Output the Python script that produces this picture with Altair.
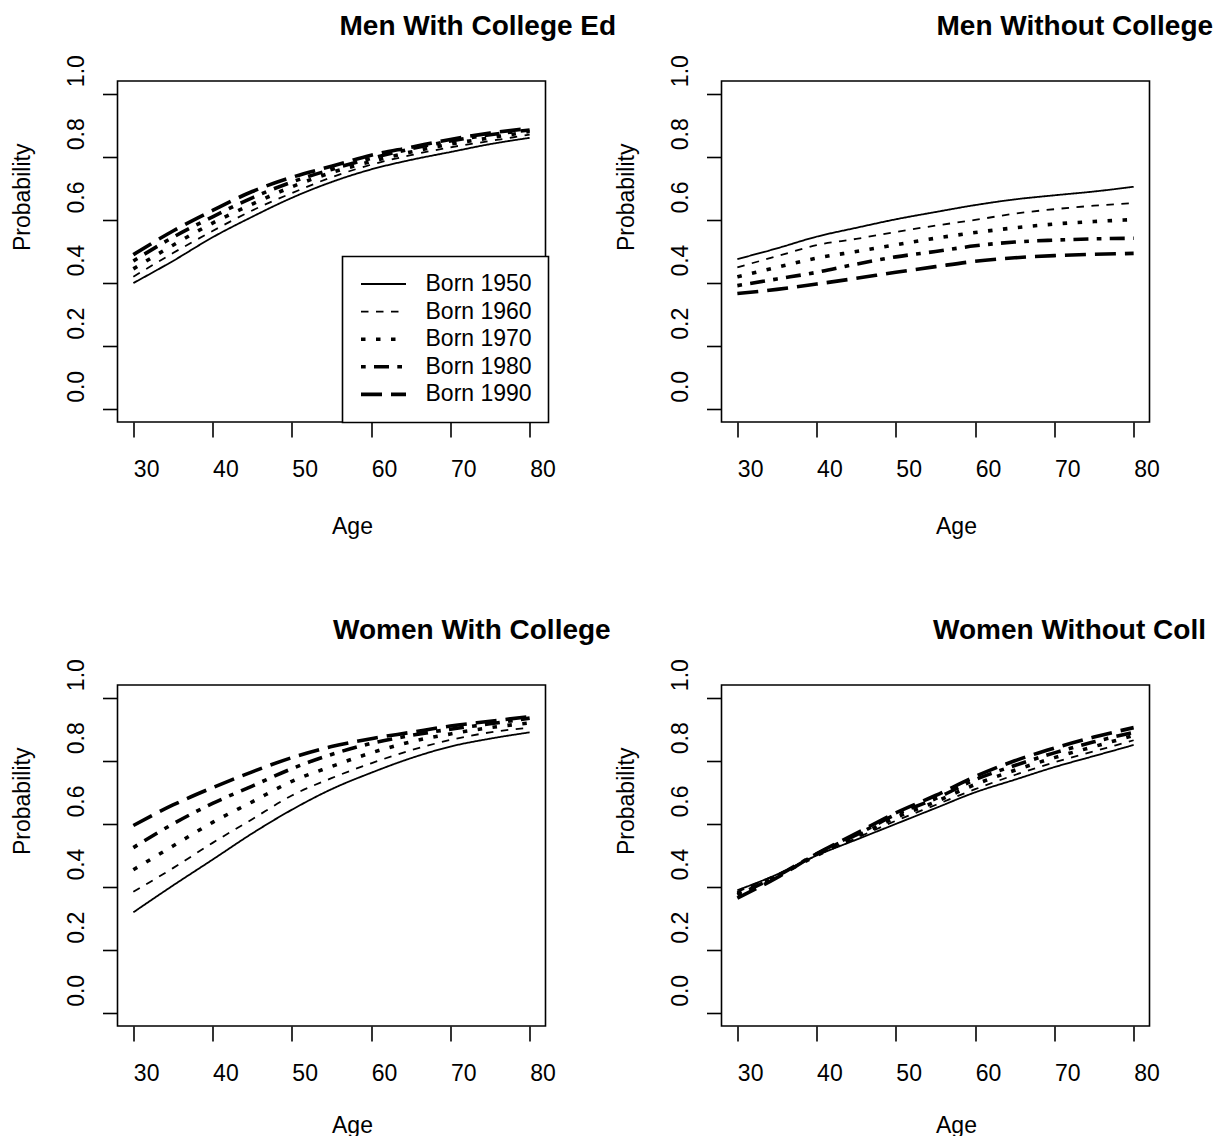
import altair as alt
import pandas as pd

# ---------------- data ----------------
ages = [30, 35, 40, 45, 50, 55, 60, 65, 70, 75, 80]
cohorts = ["Born 1950", "Born 1960", "Born 1970", "Born 1980", "Born 1990"]

men_college = [
    [0.400, 0.470, 0.545, 0.610, 0.670, 0.720, 0.760, 0.790, 0.815, 0.840, 0.860],
    [0.420, 0.495, 0.565, 0.630, 0.685, 0.735, 0.775, 0.805, 0.830, 0.850, 0.870],
    [0.445, 0.520, 0.590, 0.650, 0.705, 0.750, 0.785, 0.815, 0.840, 0.860, 0.880],
    [0.470, 0.545, 0.610, 0.670, 0.720, 0.760, 0.795, 0.825, 0.850, 0.870, 0.885],
    [0.490, 0.565, 0.630, 0.690, 0.735, 0.770, 0.805, 0.830, 0.855, 0.875, 0.890],
]
men_no_college = [
    [0.476, 0.510, 0.547, 0.575, 0.602, 0.625, 0.647, 0.665, 0.678, 0.690, 0.705],
    [0.450, 0.485, 0.520, 0.540, 0.562, 0.582, 0.600, 0.620, 0.634, 0.645, 0.653],
    [0.420, 0.450, 0.479, 0.500, 0.521, 0.542, 0.560, 0.575, 0.587, 0.595, 0.601],
    [0.392, 0.413, 0.434, 0.460, 0.483, 0.500, 0.518, 0.530, 0.536, 0.540, 0.542],
    [0.367, 0.380, 0.397, 0.415, 0.434, 0.452, 0.469, 0.480, 0.487, 0.491, 0.494],
]
women_college = [
    [0.320, 0.405, 0.487, 0.570, 0.645, 0.710, 0.762, 0.808, 0.845, 0.870, 0.890],
    [0.385, 0.460, 0.540, 0.615, 0.690, 0.745, 0.792, 0.833, 0.866, 0.890, 0.905],
    [0.455, 0.530, 0.605, 0.670, 0.735, 0.782, 0.825, 0.860, 0.885, 0.905, 0.920],
    [0.525, 0.600, 0.665, 0.720, 0.775, 0.820, 0.855, 0.880, 0.900, 0.917, 0.935],
    [0.595, 0.660, 0.715, 0.765, 0.810, 0.845, 0.870, 0.890, 0.910, 0.925, 0.940],
]
women_no_college = [
    [0.390, 0.440, 0.500, 0.550, 0.600, 0.650, 0.700, 0.740, 0.780, 0.815, 0.850],
    [0.385, 0.440, 0.500, 0.555, 0.610, 0.660, 0.710, 0.755, 0.795, 0.830, 0.865],
    [0.380, 0.435, 0.500, 0.560, 0.620, 0.670, 0.725, 0.770, 0.810, 0.845, 0.880],
    [0.375, 0.435, 0.505, 0.565, 0.630, 0.680, 0.740, 0.785, 0.825, 0.860, 0.890],
    [0.365, 0.430, 0.505, 0.570, 0.635, 0.690, 0.750, 0.800, 0.840, 0.875, 0.905],
]

panel_titles = ["Men With College Ed", "Men Without College",
                "Women With College", "Women Without Coll"]
x_ticks = [30, 40, 50, 60, 70, 80]
y_ticks = [0.0, 0.2, 0.4, 0.6, 0.8, 1.0]

# ---------------- styles / layout ----------------
FONT = "Liberation Sans"
dash_styles = [[1, 0], [7.5, 7.5], [4.5, 10.5], [4.7, 8.3, 15, 8.3], [21, 9]]
THIN, THICK = 1.8, 3.6
W, H = 428, 341
title_dx = [8, 1, 1.5, -2.5]
age_title_y = [111.5, 111.5, 106, 106]

panel_series = [men_college, men_no_college, women_college, women_no_college]
rows = []
for title, series in zip(panel_titles, panel_series):
    for cohort, vals in zip(cohorts, series):
        for a, v in zip(ages, vals):
            rows.append({"panel": title, "cohort": cohort, "age": a, "prob": v})
df = pd.DataFrame(rows)


def make_panel(idx, with_legend):
    if with_legend:
        legend = alt.Legend(
            title=None, orient="none", legendX=225, legendY=175.5, direction="vertical",
            symbolType="stroke", symbolSize=2025, symbolStrokeColor="black",
            symbolStrokeWidth=alt.ExprRef("datum.index < 2 ? %s : %s" % (THIN, THICK)),
            symbolOffset=13.5,
            labelFont=FONT, labelFontSize=23, labelColor="black", labelOffset=30.5,
            labelLimit=300, rowPadding=3.6, padding=16, strokeColor="black",
            fillColor="white", cornerRadius=0,
        )
    else:
        legend = None
    return (
        alt.Chart(df)
        .transform_filter(alt.datum.panel == panel_titles[idx])
        .mark_line(color="black", strokeCap="butt", strokeJoin="round",
                   interpolate="monotone")
        .encode(
            x=alt.X("age:Q",
                    scale=alt.Scale(domain=[28, 82], nice=False, zero=False),
                    axis=alt.Axis(values=x_ticks, title="Age", format="d",
                                  labelAlign="left", labelBaseline="alphabetic",
                                  labelPadding=39.5, labelAngle=0,
                                  titleAlign="left", titleBaseline="alphabetic",
                                  titleX=W / 2, titleY=age_title_y[idx], titleAngle=0)),
            y=alt.Y("prob:Q",
                    scale=alt.Scale(domain=[-0.04, 1.04], nice=False, zero=False),
                    axis=alt.Axis(values=y_ticks, title="Probability", format=".1f",
                                  labelAngle=-90, labelAlign="left",
                                  labelBaseline="alphabetic", labelPadding=19,
                                  labelOffset=-7,
                                  titleAngle=-90, titleAlign="left",
                                  titleBaseline="alphabetic",
                                  titleX=-88, titleY=H / 2 - 1)),
            strokeDash=alt.StrokeDash("cohort:N",
                                      scale=alt.Scale(domain=cohorts, range=dash_styles),
                                      legend=legend),
            strokeWidth=alt.condition(
                alt.FieldOneOfPredicate(field="cohort", oneOf=cohorts[:2]),
                alt.value(THIN), alt.value(THICK)),
        )
        .properties(
            width=W, height=H,
            title=alt.TitleParams(
                panel_titles[idx], anchor="middle", align="left", frame="group",
                baseline="alphabetic", offset=19, dy=27, dx=title_dx[idx], font=FONT,
                fontSize=28, fontWeight="bold", color="black"),
        )
    )


panels = [make_panel(i, i == 0) for i in range(4)]

chart = (
    alt.concat(*panels, columns=2, spacing={"row": 263, "column": 176}, bounds="flush")
    .resolve_scale(strokeDash="independent")
    .resolve_legend(strokeDash="independent")
    .properties(padding={"left": 2.5, "top": 3, "right": 0, "bottom": -2},
                background="white")
    .configure_view(stroke="black", strokeWidth=1.6)
    .configure_legend(strokeWidth=1.6)
    .configure_axis(
        grid=False, domain=False, ticks=True, tickSize=15, tickWidth=1.6,
        tickColor="black", labelFont=FONT, labelFontSize=23, labelColor="black",
        titleFont=FONT, titleFontSize=23, titleFontWeight="normal", titleColor="black",
        labelFlush=False, labelOverlap=False, labelBound=False,
    )
)

chart.save("out.html", embed_options={"renderer": "svg", "actions": False})
